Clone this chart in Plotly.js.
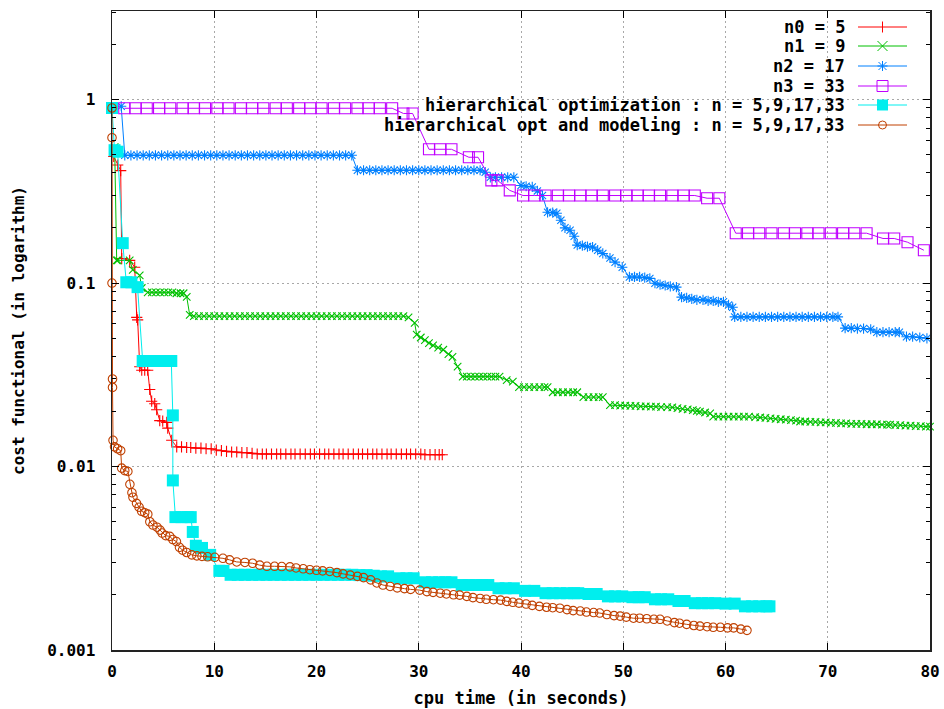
<!DOCTYPE html>
<html>
<head>
<meta charset="utf-8">
<script src="https://cdn.plot.ly/plotly-3.0.1.min.js"></script>
<style>html,body{margin:0;padding:0;background:#fff;}#chart{width:944px;height:709px;}</style>
</head>
<body>
<div id="chart"></div>
<script>
// ---------------- data ----------------
const seriesNames = ["n0 = 5", "n1 = 9", "n2 = 17", "n3 = 33",
  "hierarchical optimization : n = 5,9,17,33",
  "hierarchical opt and modeling : n = 5,9,17,33"];

const n0X = [0.17,0.56,0.85,0.95,1.73,2.22,2.42,2.51,2.71,2.91,
  3.2,3.49,3.69,3.88,4.18,4.37,4.67,4.96,5.35,5.45,
  5.84,6.33,6.8,7.3,7.7,8.2,8.7,9.2,9.7,10.2,
  10.7,11.2,11.7,12.2,12.7,13.2,13.7,14.2,14.7,15.1,
  15.6,16.1,16.5,17.0,17.5,17.9,18.4,18.9,19.4,19.8,
  20.3,20.8,21.2,21.7,22.2,22.6,23.1,23.6,24.1,24.5,
  25.0,25.5,25.9,26.4,26.9,27.3,27.8,28.3,28.8,29.2,
  29.7,30.2,30.6,31.1,31.6,32.0,32.3];
const n0Y = [0.49,0.44,0.41,0.136,0.133,0.122,0.065,0.063,0.035,0.0335,
  0.0335,0.0335,0.0263,0.0227,0.022,0.0204,0.0178,0.0177,0.0174,0.0162,
  0.0139,0.0128,0.0128,0.0127,0.0127,0.0126,0.0126,0.0125,0.0125,0.0123,
  0.0122,0.0121,0.012,0.012,0.0119,0.0119,0.0118,0.0117,0.0117,0.0117,
  0.0117,0.0117,0.0117,0.0117,0.0117,0.0117,0.0117,0.0117,0.0117,0.0117,
  0.0117,0.0117,0.0117,0.0117,0.0117,0.0117,0.0117,0.0117,0.0117,0.0117,
  0.0117,0.0117,0.0117,0.0117,0.0117,0.0117,0.0117,0.0117,0.0117,0.0117,
  0.0117,0.0117,0.0116,0.0116,0.0116,0.0116,0.0116];

const n1X = [0.26,0.46,0.56,1.73,2.03,2.71,2.91,3.49,3.9,4.3,
  4.7,5.1,5.5,5.9,6.3,6.7,7.0,7.31,7.6,8.0,
  8.5,9.0,9.5,10.0,10.5,11.0,11.5,12.0,12.5,13.0,
  13.5,14.0,14.5,15.0,15.5,16.0,16.5,17.0,17.5,18.0,
  18.5,19.0,19.5,20.0,20.5,21.0,21.5,22.0,22.5,23.0,
  23.5,24.0,24.5,25.0,25.5,26.0,26.5,27.0,27.5,28.0,
  28.5,29.0,29.6,29.8,30.2,30.6,31.0,31.4,31.9,32.4,
  32.9,33.3,33.8,34.3,34.7,35.1,35.5,35.9,36.3,36.7,
  37.1,37.5,37.9,38.6,39.2,39.8,40.3,40.8,41.3,41.8,
  42.3,42.6,43.1,43.6,44.1,44.6,45.1,45.5,46.1,46.6,
  47.1,47.6,48.0,48.7,49.2,49.7,50.2,50.7,51.2,51.7,
  52.2,52.7,53.2,53.7,54.3,54.8,55.3,55.8,56.3,56.8,
  57.2,57.5,58.0,58.5,58.8,59.3,59.8,60.3,60.8,61.3,
  61.8,62.3,62.9,63.4,63.9,64.4,64.9,65.4,65.9,66.4,
  66.9,67.3,67.8,68.3,68.8,69.3,69.8,70.3,70.8,71.3,
  71.8,72.3,72.8,73.3,73.8,74.3,74.8,75.3,75.8,76.1,
  76.6,77.1,77.6,78.1,78.6,79.1,79.6,80.0];
const n1Y = [0.55,0.133,0.133,0.133,0.118,0.11,0.094,0.089,0.089,0.089,
  0.089,0.089,0.089,0.089,0.088,0.088,0.088,0.084,0.067,0.066,
  0.066,0.066,0.066,0.066,0.066,0.066,0.066,0.066,0.066,0.066,
  0.066,0.066,0.066,0.066,0.066,0.066,0.066,0.066,0.066,0.066,
  0.066,0.066,0.066,0.066,0.066,0.066,0.066,0.066,0.066,0.066,
  0.066,0.066,0.066,0.066,0.066,0.066,0.066,0.066,0.066,0.066,
  0.066,0.065,0.0606,0.0523,0.0505,0.0489,0.047,0.0458,0.0445,0.0433,
  0.041,0.0396,0.035,0.0309,0.0309,0.0309,0.0309,0.0309,0.0309,0.0309,
  0.0309,0.0309,0.0309,0.0296,0.029,0.0271,0.0271,0.0271,0.0271,0.0271,
  0.0271,0.0271,0.0254,0.0254,0.0254,0.0254,0.0254,0.0254,0.0239,0.0239,
  0.0239,0.0239,0.0239,0.0216,0.0216,0.0215,0.0215,0.0214,0.0214,0.0213,
  0.0213,0.0212,0.0212,0.0211,0.0211,0.021,0.0208,0.0206,0.0205,0.0203,
  0.0201,0.0199,0.0197,0.0195,0.0187,0.0187,0.0187,0.0187,0.0187,0.0187,
  0.0187,0.0187,0.0186,0.0185,0.0184,0.0183,0.0182,0.0181,0.018,0.0179,
  0.0178,0.0176,0.0176,0.0175,0.0175,0.0174,0.0174,0.0173,0.0173,0.0172,
  0.0172,0.0171,0.0171,0.0171,0.017,0.017,0.017,0.0169,0.0169,0.0169,
  0.0168,0.0168,0.0167,0.0167,0.0166,0.0166,0.0165,0.0165];

const n2X = [0.9,1.25,1.85,2.45,3.05,3.65,4.25,4.85,5.45,6.05,
  6.65,7.25,7.85,8.45,9.05,9.65,10.25,10.85,11.45,12.05,
  12.65,13.25,13.85,14.45,15.05,15.65,16.25,16.85,17.45,18.05,
  18.65,19.25,19.85,20.45,21.05,21.65,22.25,22.85,23.45,24.0,
  24.6,25.2,25.8,26.4,27.0,27.6,28.2,28.8,29.4,30.0,
  30.6,31.2,31.8,32.4,33.0,33.6,34.2,34.8,35.4,36.0,
  36.5,37.0,37.5,38.1,38.7,39.3,40.0,40.5,41.1,41.6,
  42.1,42.6,43.1,43.5,43.9,44.3,44.8,45.2,45.5,46.0,
  46.5,47.0,47.5,48.0,48.7,49.2,49.9,50.6,51.1,51.6,
  52.1,52.6,53.1,53.6,54.1,54.6,55.2,55.7,56.2,56.7,
  57.2,57.8,58.3,58.8,59.3,59.8,60.3,60.7,60.9,61.5,
  62.1,62.7,63.3,63.9,64.5,65.1,65.7,66.3,66.9,67.5,
  68.1,68.7,69.3,69.9,70.5,71.0,71.7,72.3,72.9,73.5,
  74.2,74.8,75.4,76.0,76.6,77.0,77.7,78.3,79.0,79.7];
const n2Y = [0.92,0.497,0.497,0.497,0.497,0.497,0.497,0.497,0.497,0.497,
  0.497,0.497,0.497,0.497,0.497,0.497,0.497,0.497,0.497,0.497,
  0.497,0.497,0.497,0.497,0.497,0.497,0.497,0.497,0.497,0.497,
  0.497,0.497,0.497,0.497,0.497,0.497,0.497,0.497,0.497,0.412,
  0.412,0.412,0.412,0.412,0.412,0.412,0.412,0.412,0.412,0.412,
  0.412,0.412,0.412,0.412,0.412,0.412,0.412,0.412,0.412,0.412,
  0.402,0.377,0.377,0.377,0.377,0.377,0.34,0.337,0.334,0.318,
  0.30,0.243,0.242,0.24,0.22,0.20,0.194,0.18,0.161,0.16,
  0.158,0.157,0.151,0.145,0.137,0.13,0.122,0.108,0.108,0.108,
  0.107,0.106,0.0998,0.098,0.097,0.096,0.095,0.0838,0.083,0.082,
  0.081,0.081,0.080,0.080,0.079,0.079,0.076,0.0738,0.0654,0.0654,
  0.0654,0.0654,0.0654,0.0654,0.0654,0.0654,0.0654,0.0654,0.0654,0.0654,
  0.0654,0.0654,0.0654,0.0654,0.0654,0.0654,0.0568,0.0568,0.0565,0.0565,
  0.056,0.054,0.054,0.054,0.054,0.054,0.051,0.051,0.0505,0.050];

const n3X = [1.2,2.3,3.4,4.6,5.7,6.9,8.0,9.1,10.3,11.4,
  12.6,13.7,14.8,16.0,17.1,18.3,19.4,20.5,21.7,22.8,
  24.0,25.1,26.2,27.4,28.5,29.4,31.0,32.1,33.2,34.9,
  35.8,37.1,37.7,38.9,40.2,41.3,42.4,43.6,44.7,45.8,
  46.9,48.0,49.2,50.3,51.4,52.5,53.6,54.8,55.9,57.0,
  58.2,59.4,61.0,62.2,63.3,64.5,65.7,66.8,68.0,69.1,
  70.3,71.5,72.6,73.8,75.4,76.5,77.8,79.4];
const n3Y = [0.897,0.897,0.897,0.897,0.897,0.897,0.897,0.897,0.897,0.897,
  0.897,0.897,0.897,0.897,0.897,0.897,0.897,0.897,0.897,0.897,
  0.897,0.897,0.897,0.897,0.84,0.84,0.536,0.536,0.536,0.485,
  0.485,0.363,0.363,0.32,0.30,0.30,0.30,0.30,0.30,0.30,
  0.30,0.30,0.30,0.30,0.30,0.30,0.30,0.30,0.30,0.30,
  0.29,0.29,0.187,0.187,0.187,0.187,0.187,0.187,0.187,0.187,
  0.187,0.187,0.187,0.187,0.175,0.175,0.167,0.151];

const hoX = [0.0,0.25,0.55,1.05,1.4,1.9,2.5,3.0,3.5,4.0,
  4.5,5.0,5.5,5.8,5.95,5.95,6.2,6.8,7.4,7.7,
  7.9,8.2,8.8,9.6,10.5,10.9,11.6,12.3,13.0,13.7,
  14.4,15.1,15.8,16.5,17.2,17.9,18.6,19.3,20.0,20.7,
  21.4,22.1,22.8,23.5,24.2,24.9,25.6,26.3,27.0,28.1,
  28.8,29.5,30.6,31.3,32.0,32.6,33.2,34.2,34.9,35.6,
  36.2,36.8,37.8,38.5,39.3,40.4,41.3,42.4,43.1,43.8,
  44.5,45.2,45.6,46.6,47.4,48.5,49.2,49.9,50.9,51.5,
  52.1,53.1,53.7,54.4,55.4,56.0,57.0,57.7,58.3,59.0,
  60.0,60.9,61.9,62.6,63.3,64.0,64.3];
const hoY = [0.90,0.53,0.52,0.165,0.101,0.101,0.095,0.0376,0.0376,0.0376,
  0.0376,0.0376,0.0376,0.0376,0.019,0.0084,0.0053,0.0053,0.0053,0.0053,
  0.0044,0.0037,0.0036,0.0033,0.0027,0.0027,0.00257,0.00257,0.00257,0.00257,
  0.00257,0.00257,0.00257,0.00257,0.00257,0.00257,0.00257,0.00257,0.00257,0.00257,
  0.00257,0.00257,0.00257,0.00257,0.00256,0.00256,0.00254,0.00252,0.00252,0.00246,
  0.00246,0.00246,0.00234,0.00234,0.00234,0.00234,0.00234,0.00226,0.00226,0.00226,
  0.00226,0.00226,0.00217,0.00217,0.00217,0.0021,0.0021,0.00204,0.00204,0.00204,
  0.00204,0.00204,0.00204,0.00202,0.00202,0.00196,0.00196,0.00196,0.00194,0.00194,
  0.00194,0.00189,0.00189,0.00189,0.00185,0.00185,0.0018,0.0018,0.0018,0.0018,
  0.00179,0.00179,0.00173,0.00173,0.00173,0.00173,0.00173];

const hmX = [0.0,0.0,0.0,0.05,0.05,0.1,0.25,0.55,0.85,0.95,
  1.25,1.55,1.75,1.95,2.05,2.4,2.65,2.9,3.2,3.5,
  3.7,4.0,4.4,4.7,4.9,5.25,5.65,5.95,6.3,6.6,
  6.9,7.3,7.8,8.3,8.8,9.35,10.05,10.85,11.5,12.2,
  13.0,13.75,14.45,15.15,15.9,16.6,17.4,18.0,18.7,19.35,
  20.0,20.6,21.3,22.0,22.6,23.3,24.0,24.6,25.3,25.9,
  26.5,27.2,27.9,28.6,29.2,30.1,30.8,31.4,32.1,32.7,
  33.4,34.0,34.7,35.3,36.0,36.6,37.3,38.0,38.6,39.2,
  39.8,40.5,41.1,41.8,42.5,43.1,43.8,44.5,45.1,45.8,
  46.4,47.1,47.7,48.4,49.1,49.7,50.3,51.0,51.6,52.3,
  53.0,53.6,54.3,55.0,55.5,56.2,56.9,57.5,58.2,58.8,
  59.5,60.2,60.8,61.5,62.1];
const hmY = [0.90,0.62,0.10,0.030,0.027,0.0139,0.0128,0.0125,0.0122,0.0098,
  0.0095,0.0094,0.008,0.0072,0.0068,0.0063,0.006,0.0057,0.0056,0.0055,
  0.005,0.0048,0.00467,0.0045,0.00434,0.0042,0.00416,0.004,0.0039,0.00363,
  0.0035,0.0034,0.0033,0.00326,0.00324,0.00322,0.0032,0.00316,0.0031,0.00302,
  0.003,0.00297,0.0029,0.00286,0.00286,0.00285,0.00284,0.0028,0.00277,0.00274,
  0.00272,0.0027,0.00268,0.00264,0.0026,0.00256,0.00252,0.00248,0.00241,0.00232,
  0.00226,0.00222,0.00218,0.00216,0.00214,0.00212,0.00208,0.00206,0.00204,0.00202,
  0.002,0.00199,0.00196,0.00193,0.00191,0.00189,0.00188,0.00187,0.00184,0.00182,
  0.0018,0.00178,0.00175,0.00173,0.00171,0.0017,0.00169,0.00166,0.00164,0.00163,
  0.00161,0.0016,0.00159,0.00156,0.00154,0.00153,0.00151,0.00149,0.00149,0.00148,
  0.00147,0.00147,0.00144,0.00141,0.0014,0.00138,0.00136,0.00135,0.00134,0.00133,
  0.00133,0.00132,0.00132,0.0013,0.00128];

const xTickVals = [0,10,20,30,40,50,60,70,80];
const yTickVals = [0.001,0.01,0.1,1];
const yTickText = ["0.001","0.01","0.1","1"];
const yMinorVals = [0.002,0.003,0.004,0.005,0.006,0.007,0.008,0.009,
  0.02,0.03,0.04,0.05,0.06,0.07,0.08,0.09,
  0.2,0.3,0.4,0.5,0.6,0.7,0.8,0.9,2,3];

// ---------------- styling ----------------
const colors = ["#ff0000","#00c000","#0080ff","#c000ff","#00eeee","#c04000"];
const symbols = ["cross-thin-open","x-thin-open","asterisk-open","square-open","square","circle-open"];
const sizes = [8,7.5,8.5,11,12,8.5];
const FONTFAM = '"DejaVu Sans Mono", "Liberation Mono", monospace';
const W = 944, H = 709, M = {l:112, r:14, t:11, b:59};
const PW = W - M.l - M.r, PH = H - M.t - M.b;
const pxX = p => (p - M.l) / PW;
const pxY = p => (H - M.b - p) / PH;

const xs = [n0X,n1X,n2X,n3X,hoX,hmX];
const ys = [n0Y,n1Y,n2Y,n3Y,hoY,hmY];
const traces = xs.map((x,i) => ({
  type: 'scatter', mode: 'lines+markers', name: seriesNames[i],
  x: x, y: ys[i], cliponaxis: false,
  line: {color: colors[i], width: 1},
  marker: {symbol: symbols[i], size: sizes[i], color: colors[i],
           line: {color: colors[i], width: i === 4 ? 0 : 1.1}},
  showlegend: false
}));

// ---------------- gnuplot-style key (text right, sample on the right) ----------------
const keyRowsPx = [27,46,66,86,105,125];
const keyTextRightPx = 847, keyLine0 = 858, keyLine1 = 907, keyMid = 882.5;
const annotations = [];
const shapes = [];
keyRowsPx.forEach((py,i) => {
  const yp = pxY(py);
  annotations.push({xref:'paper', yref:'paper', x: pxX(keyTextRightPx), y: yp,
    xanchor:'right', yanchor:'middle', showarrow:false, text: seriesNames[i],
    font:{family:FONTFAM, size:17, color:'#000', weight:'bold'}});
  shapes.push({type:'line', xref:'paper', yref:'paper', x0:pxX(keyLine0), x1:pxX(keyLine1), y0:yp, y1:yp,
    line:{color:colors[i], width:1}});
  const base = {xref:'paper', yref:'paper', xsizemode:'pixel', ysizemode:'pixel',
    xanchor:pxX(keyMid), yanchor:yp};
  const ln = (x0,y0,x1,y1) => shapes.push(Object.assign({type:'line', x0, y0, x1, y1,
    line:{color:colors[i], width:1}}, base));
  if (i === 0) { ln(0,-5.5,0,5.5); }
  if (i === 1) { ln(-5,-5,5,5); ln(-5,5,5,-5); }
  if (i === 2) { ln(0,-5,0,5); ln(-4,-4,4,4); ln(-4,4,4,-4); ln(-5,0,5,0); }
  if (i === 3) { shapes.push(Object.assign({type:'rect', x0:-5.5, x1:5.5, y0:-5.5, y1:5.5,
    line:{color:colors[i], width:1}, fillcolor:'rgba(0,0,0,0)'}, base)); }
  if (i === 4) { shapes.push(Object.assign({type:'rect', x0:-5.5, x1:5.5, y0:-5.5, y1:5.5,
    line:{color:colors[i], width:0}, fillcolor:colors[i]}, base)); }
  if (i === 5) { shapes.push(Object.assign({type:'circle', x0:-4, x1:4, y0:-4, y1:4,
    line:{color:colors[i], width:1}, fillcolor:'rgba(0,0,0,0)'}, base)); }
});

const axisFont = {family:FONTFAM, size:16, color:'#000', weight:'bold'};
const titleFontX = {family:FONTFAM, size:17, color:'#000', weight:'bold'};
const layout = {
  width: W, height: H,
  margin: {l:M.l, r:M.r, t:M.t, b:M.b, pad:0},
  paper_bgcolor:'#fff', plot_bgcolor:'#fff',
  showlegend:false,
  font: axisFont,
  xaxis: {
    range:[0,80], tickvals:xTickVals, ticktext:xTickVals.map(String),
    ticks:'inside', ticklen:7, tickwidth:1, tickcolor:'#000',
    showline:true, linecolor:'#222', linewidth:1.5, mirror:'ticks',
    showgrid:true, gridcolor:'#a8a8a8', gridwidth:1, griddash:'2px,3px',
    zeroline:false, tickfont:axisFont, ticklabelstandoff:6,
    title:{text:'cpu time (in seconds)', font:titleFontX, standoff:12},
    automargin:false
  },
  yaxis: {
    type:'log', range:[-3, Math.log10(3.04)],
    tickvals:yTickVals, ticktext:yTickText,
    ticks:'inside', ticklen:7, tickwidth:1, tickcolor:'#000',
    minor:{tickvals:yMinorVals, ticks:'inside', ticklen:4, tickcolor:'#000', showgrid:false},
    showline:true, linecolor:'#222', linewidth:1.5, mirror:'ticks',
    showgrid:true, gridcolor:'#a8a8a8', gridwidth:1, griddash:'2px,3px',
    zeroline:false, tickfont:axisFont, ticklabelstandoff:12,
    title:{text:'cost functional (in logarithm)', font:axisFont, standoff:18},
    automargin:false
  },
  annotations: annotations,
  shapes: shapes
};

Plotly.newPlot('chart', traces, layout, {displayModeBar:false, staticPlot:true});
</script>
</body>
</html>
